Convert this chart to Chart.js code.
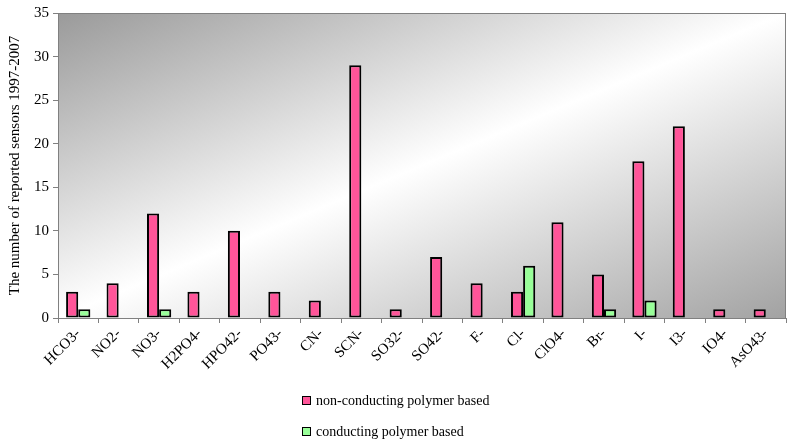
<!DOCTYPE html>
<html>
<head>
<meta charset="utf-8">
<script src="https://cdn.jsdelivr.net/npm/chart.js@4.4.1/dist/chart.umd.min.js"></script>
<style>
  html, body { margin: 0; padding: 0; background: #fff; }
  #wrap { position: relative; width: 793px; height: 445px; }
  #legend { position: absolute; left: 302px; top: 391px; font: 14px "Liberation Serif", "Times New Roman", serif; color: #000; }
  #legend div { height: 31px; line-height: 20px; white-space: nowrap; }
  #legend span.box { display: inline-block; width: 7px; height: 7px; border: 1px solid #000; margin-right: 5px; vertical-align: 0px; }
</style>
</head>
<body>
<div id="wrap">
  <canvas id="chart" width="793" height="445"></canvas>
  <div id="legend"></div>
</div>
<script>
// anions on the x axis
const anions = ["HCO3-", "NO2-", "NO3-", "H2PO4-", "HPO42-", "PO43-", "CN-", "SCN-", "SO32-",
    "SO42-", "F-", "Cl-", "ClO4-", "Br-", "I-", "I3-", "IO4-", "AsO43-"];

const nonConducting = [3, 4, 12, 3, 10, 3, 2, 29, 1, 7, 4, 3, 11, 5, 18, 22, 1, 1];
const conducting = [1, 0, 1, 0, 0, 0, 0, 0, 0, 0, 0, 6, 0, 1, 2, 0, 0, 0];

const seriesNames = ["non-conducting polymer based", "conducting polymer based"];
const seriesColors = ["#ff5599", "#99ff99"];

const yTitle = "The number of reported sensors 1997-2007";

const serif = "'Liberation Serif', 'Times New Roman', serif";

// grey-white-grey diagonal fill behind the bars
const plotBackground = {
    id: "plotBackground",
    beforeDatasetsDraw(chart) {
        const { ctx, chartArea: a } = chart;
        const w = a.right - a.left, h = a.bottom - a.top;
        const cx = a.left + w / 2, cy = a.top + h / 2;
        const k = (w * h) / (w * w + h * h);
        const g = ctx.createLinearGradient(cx - h * k, cy - w * k, cx + h * k, cy + w * k);
        g.addColorStop(0, "#9a9a9a");
        g.addColorStop(0.5, "#ffffff");
        g.addColorStop(1, "#a2a2a2");
        ctx.save();
        ctx.fillStyle = g;
        ctx.fillRect(a.left, a.top, w, h);
        ctx.strokeStyle = "#808080";
        ctx.lineWidth = 1;
        ctx.strokeRect(a.left + 0.5, a.top + 0.5, w - 1, h);
        ctx.restore();
    }
};

new Chart(document.getElementById("chart"), {
    type: "bar",
    data: {
        labels: anions,
        datasets: [
            {
                label: seriesNames[0],
                data: nonConducting,
                backgroundColor: seriesColors[0],
                borderColor: "#000",
                borderWidth: 2,
                borderSkipped: false,
                categoryPercentage: 0.6,
                barPercentage: 1
            },
            {
                label: seriesNames[1],
                data: conducting,
                backgroundColor: seriesColors[1],
                borderColor: "#000",
                borderWidth: 2,
                borderSkipped: false,
                categoryPercentage: 0.6,
                barPercentage: 1
            }
        ]
    },
    options: {
        responsive: false,
        animation: false,
        layout: { padding: { left: 0, right: 7, top: 12, bottom: 0 } },
        plugins: {
            legend: { display: false },
            tooltip: { enabled: false }
        },
        scales: {
            x: {
                grid: { drawOnChartArea: false, tickLength: 5, color: "#808080" },
                border: { color: "#808080" },
                ticks: {
                    autoSkip: false,
                    maxRotation: 45,
                    minRotation: 45,
                    padding: 2,
                    color: "#000",
                    font: { family: serif, size: 15 }
                },
                afterFit(scale) { scale.height = 127; }
            },
            y: {
                min: 0,
                max: 35,
                ticks: {
                    stepSize: 5,
                    padding: 4,
                    color: "#000",
                    font: { family: serif, size: 15 }
                },
                grid: { drawOnChartArea: false, tickLength: 5, color: "#808080" },
                border: { color: "#808080" },
                title: {
                    display: true,
                    text: yTitle,
                    color: "#000",
                    padding: { top: 6, bottom: 0 },
                    font: { family: serif, size: 15 }
                },
                afterFit(scale) { scale.width = 58; }
            }
        }
    },
    plugins: [plotBackground]
});

// legend stacked under the chart
const legend = document.getElementById("legend");
seriesNames.forEach((name, i) => {
    const row = document.createElement("div");
    const box = document.createElement("span");
    box.className = "box";
    box.style.background = seriesColors[i];
    row.appendChild(box);
    row.appendChild(document.createTextNode(name));
    legend.appendChild(row);
});
</script>
</body>
</html>
